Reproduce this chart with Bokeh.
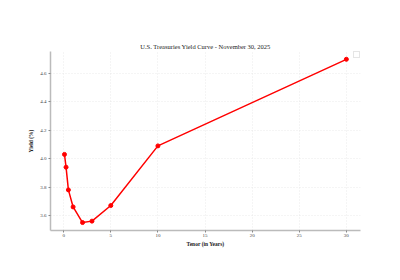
from bokeh.plotting import figure
from bokeh.embed import file_html
from bokeh.resources import INLINE
from bokeh.models import Range1d, FixedTicker, Legend, LegendItem, CustomJSTickFormatter

tenors = [1/12, 0.25, 0.5, 1, 2, 3, 5, 10, 30]
yields = [4.03, 3.94, 3.78, 3.66, 3.55, 3.56, 3.67, 4.09, 4.70]
x_ticks = [0, 5, 10, 15, 20, 25, 30]
y_ticks = [3.6, 3.8, 4.0, 4.2, 4.4, 4.6]
title = "U.S. Treasuries Yield Curve - November 30, 2025"

FONT = "Liberation Serif"

p = figure(width=400, height=280, output_backend="svg", toolbar_location=None,
           x_range=Range1d(-1.4, 31.5), y_range=Range1d(3.494, 4.755),
           min_border_left=50, min_border_right=40, min_border_top=51, min_border_bottom=50)
p.title.text = title
p.title.text_font = FONT
p.title.text_font_size = "6.5px"
p.title.text_font_style = "normal"
p.title.text_color = "#222222"
p.title.align = "center"
p.title.offset = 0
p.title.standoff = 4

p.outline_line_color = None
p.background_fill_color = "white"
p.border_fill_color = "white"

for ax in (p.xaxis, p.yaxis):
    ax.axis_line_color = "#bbbbbb"
    ax.axis_line_width = 1.5
    ax.major_tick_line_color = "#888888"
    ax.major_tick_in = 0
    ax.major_tick_out = 2
    ax.minor_tick_line_color = None
    ax.major_label_text_font = FONT
    ax.major_label_text_font_size = "5px"
    ax.major_label_text_color = "#444444"
    ax.axis_label_text_font = FONT
    ax.axis_label_text_font_size = "5.5px"
    ax.axis_label_text_font_style = "bold"
    ax.axis_label_text_color = "#222222"
    ax.major_label_standoff = 1
    ax.axis_label_standoff = 1

p.yaxis.major_label_standoff = 2
p.yaxis.axis_label_standoff = 3
p.xaxis.ticker = FixedTicker(ticks=x_ticks)
p.yaxis.ticker = FixedTicker(ticks=y_ticks)
p.yaxis.formatter = CustomJSTickFormatter(code="return tick.toFixed(1);")
p.xaxis.axis_label = "Tenor (in Years)"
p.yaxis.axis_label = "Yield (%)"

for g in (p.xgrid, p.ygrid):
    g.grid_line_color = "#dddddd"
    g.grid_line_dash = "1 2"
    g.grid_line_width = 0.6

p.line(tenors, yields, line_color="red", line_width=1.5)
p.scatter(tenors, yields, size=4, fill_color="red", line_color="red")

dummy = p.scatter([0], [4.0], size=1, alpha=0)
legend = Legend(items=[LegendItem(label="", renderers=[dummy])], location="top_right",
                glyph_width=1, glyph_height=1, padding=2, margin=0, spacing=0,
                label_width=0, label_height=0, label_standoff=0,
                border_line_color="#cccccc", border_line_width=0.8,
                background_fill_alpha=1)
p.add_layout(legend, "center")

open("out.html", "w").write(file_html(p, INLINE))
